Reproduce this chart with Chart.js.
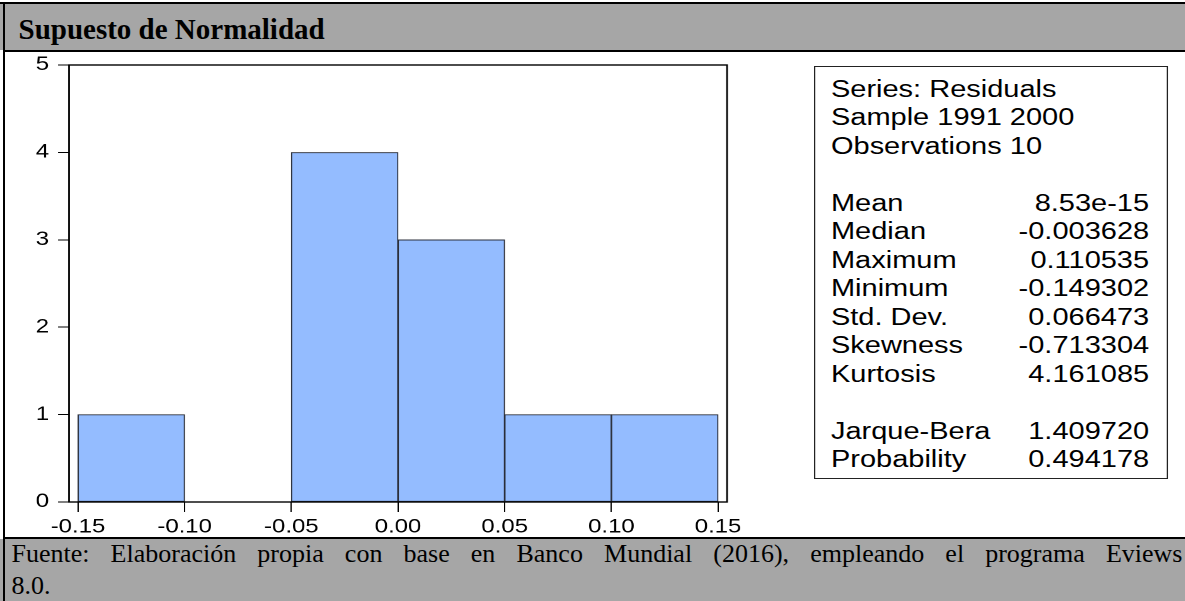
<!DOCTYPE html>
<html>
<head>
<meta charset="utf-8">
<script src="https://cdn.jsdelivr.net/npm/chart.js@4.4.1/dist/chart.umd.min.js"></script>
<style>
html,body{margin:0;padding:0;background:#fff;}
body{width:1185px;height:601px;overflow:hidden;position:relative;}
.abs{position:absolute;}
#titlebar{left:0;top:3px;width:1185px;height:47px;background:#a6a6a6;}
#title{left:18.5px;top:15px;font:bold 29px/29px "Liberation Serif","Times New Roman",serif;white-space:nowrap;color:#000;}
#footer{left:0;top:539px;width:1185px;height:62px;background:#a6a6a6;}
#foot1{left:11.5px;top:537.7px;width:1171px;font:26px/32px "Liberation Serif","Times New Roman",serif;text-align:justify;text-align-last:justify;color:#000;}
#foot2{left:11.5px;top:569.7px;font:26px/32px "Liberation Serif","Times New Roman",serif;color:#000;white-space:nowrap;}
.line{background:#000;}
#wrap{left:0;top:52px;width:941px;height:486px;transform:scaleX(1.26);transform-origin:0 0;}
#c{position:absolute;left:0;top:0;}
#box{position:absolute;left:646px;top:14px;width:281px;height:413px;box-sizing:border-box;border:1px solid #222;background:#fff;
 padding:7.8px 14px 0 12.5px;font:23px/28.5px "Liberation Sans",Arial,sans-serif;color:#000;}
.row{display:flex;justify-content:space-between;height:28.5px;white-space:nowrap;}
</style>
</head>
<body>
<div id="titlebar" class="abs"></div>
<div id="title" class="abs">Supuesto de Normalidad</div>
<div id="wrap" class="abs">
  <canvas id="c" width="941" height="486" style="width:941px;height:486px"></canvas>
  <div id="box"></div>
</div>
<div id="footer" class="abs"></div>
<div id="foot1" class="abs">Fuente: Elaboración propia con base en Banco Mundial (2016), empleando el programa Eviews</div>
<div id="foot2" class="abs">8.0.</div>
<div class="abs line" style="left:0;top:2px;width:1185px;height:2px"></div>
<div class="abs line" style="left:3px;top:2px;width:2px;height:599px"></div>
<div class="abs line" style="left:3px;top:50px;width:1182px;height:2px"></div>
<div class="abs line" style="left:3px;top:537px;width:1182px;height:2px"></div>
<script>
// ---- data ----
const binEdges = [-0.15, -0.10, -0.05, 0.00, 0.05, 0.10, 0.15];
const counts = [1, 0, 4, 3, 1, 1];
const xTickValues = [-0.15, -0.10, -0.05, 0.00, 0.05, 0.10, 0.15];
const xTickLabels = ['-0.15', '-0.10', '-0.05', '0.00', '0.05', '0.10', '0.15'];
const yTickValues = [0, 1, 2, 3, 4, 5];
const yTickLabels = ['0', '1', '2', '3', '4', '5'];
const headerLines = ['Series: Residuals', 'Sample 1991 2000', 'Observations 10'];
const statLabels = ['Mean', 'Median', 'Maximum', 'Minimum', 'Std. Dev.', 'Skewness', 'Kurtosis'];
const statValues = ['8.53e-15', '-0.003628', '0.110535', '-0.149302', '0.066473', '-0.713304', '4.161085'];
const testLabels = ['Jarque-Bera', 'Probability'];
const testValues = ['1.409720', '0.494178'];

// ---- stats box ----
const box = document.getElementById('box');
function addRow(l, v) {
  const r = document.createElement('div'); r.className = 'row';
  const a = document.createElement('span'); a.textContent = l;
  const b = document.createElement('span'); b.textContent = v || '';
  r.appendChild(a); r.appendChild(b); box.appendChild(r);
}
headerLines.forEach(h => addRow(h, ''));
addRow('', '');
statLabels.forEach((l, i) => addRow(l, statValues[i]));
addRow('', '');
testLabels.forEach((l, i) => addRow(l, testValues[i]));

// ---- chart ----
const barData = counts.map((c, i) => ({ x: (binEdges[i] + binEdges[i + 1]) / 2, y: c }));

const framePlugin = {
  id: 'frame',
  afterDatasetsDraw(chart) {
    const { ctx, chartArea: a } = chart;
    ctx.save();
    ctx.strokeStyle = '#000';
    ctx.lineWidth = 1.4;
    ctx.strokeRect(a.left, a.top, a.right - a.left, a.bottom - a.top);
    ctx.restore();
  }
};

const tickFont = { family: '"Liberation Sans", Arial, sans-serif', size: 19 };

new Chart(document.getElementById('c'), {
  type: 'bar',
  data: {
    datasets: [{
      data: barData,
      backgroundColor: '#94bcff',
      borderColor: '#2b2f3a',
      borderWidth: 1,
      borderSkipped: false,
      barPercentage: 1,
      categoryPercentage: 1
    }]
  },
  options: {
    responsive: false,
    devicePixelRatio: 2,
    animation: false,
    layout: { padding: { top: 13, right: 364, bottom: 0, left: 0 } },
    plugins: { legend: { display: false }, tooltip: { enabled: false } },
    scales: {
      x: {
        type: 'linear',
        min: -0.1542,
        max: 0.1542,
        offset: false,
        afterBuildTicks: s => { s.ticks = xTickValues.map(v => ({ value: v })); },
        afterFit: s => { s.height = 36; s.paddingLeft = 0; s.paddingRight = 0; },
        grid: { drawOnChartArea: false, drawTicks: true, tickLength: 10, color: '#000', lineWidth: 1, offset: false },
        border: { display: false },
        ticks: { autoSkip: false, maxRotation: 0, padding: 4, color: '#000', font: tickFont,
                 callback: (v, i) => xTickLabels[i] }
      },
      y: {
        min: 0,
        max: 5,
        afterBuildTicks: s => { s.ticks = yTickValues.map(v => ({ value: v })); },
        afterFit: s => { s.width = 54.76; s.paddingTop = 0; s.paddingBottom = 0; },
        grid: { drawOnChartArea: false, drawTicks: true, tickLength: 8.73, color: '#000', lineWidth: 1 },
        border: { display: false },
        ticks: { padding: 7.1, color: '#000', font: tickFont, callback: (v, i) => yTickLabels[i] }
      }
    }
  },
  plugins: [framePlugin]
});
</script>
</body>
</html>
